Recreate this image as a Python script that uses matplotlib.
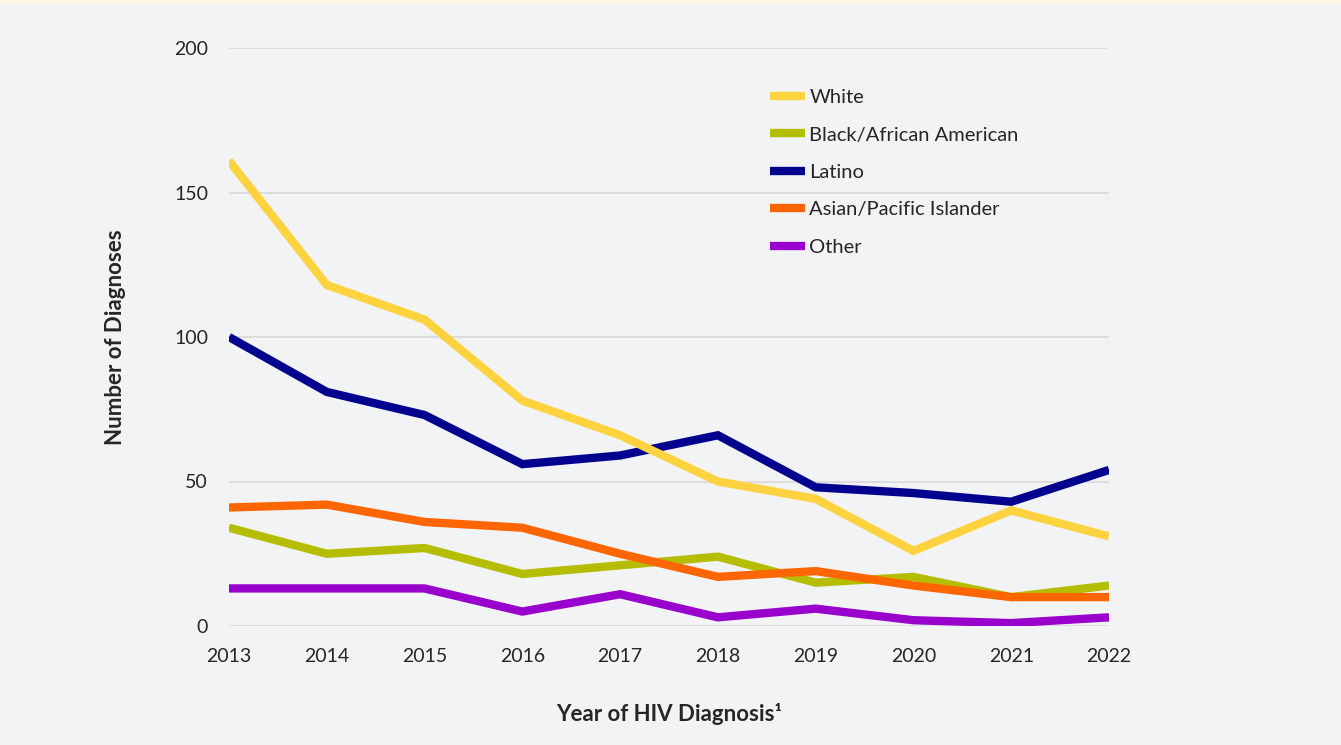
import matplotlib.pyplot as plt
from matplotlib.patches import Rectangle

years = [2013, 2014, 2015, 2016, 2017, 2018, 2019, 2020, 2021, 2022]

white = [161, 118, 106, 78, 66, 50, 44, 26, 40, 31]
black = [34, 25, 27, 18, 21, 24, 15, 17, 10, 14]
latino = [100, 81, 73, 56, 59, 66, 48, 46, 43, 54]
asian = [41, 42, 36, 34, 25, 17, 19, 14, 10, 10]
other = [13, 13, 13, 5, 11, 3, 6, 2, 1, 3]

series_names = ['White', 'Black/African American', 'Latino',
                'Asian/Pacific Islander', 'Other']
series_colors = ['#FFD23F', '#B5BD00', '#02028E', '#FF6600', '#9900CC']
# drawing order: white on top of latino, asian on top of black
series_z = [6, 3, 5, 4, 2]

plt.rcParams['font.family'] = ['Lato', 'DejaVu Sans']

bg = '#F2F3F5'
fig = plt.figure(figsize=(13.41, 7.45), dpi=100, facecolor=bg)
# thin cream strip along the top edge
fig.patches.append(Rectangle((0, 1 - 5 / 745), 1, 5 / 745, transform=fig.transFigure,
                             facecolor='#FDF7EA', edgecolor='none'))

ax = fig.add_axes([229 / 1341, 1 - 626 / 745, 880 / 1341, 578 / 745])
ax.set_facecolor(bg)

all_values = [white, black, latino, asian, other]
for vals, name, col, z in zip(all_values, series_names, series_colors, series_z):
    ax.plot(years, vals, color=col, linewidth=6, label=name, zorder=z,
            solid_joinstyle='miter', solid_capstyle='butt')

ax.set_xlim(2013, 2022)
ax.set_ylim(0, 200)
ax.set_yticks([0, 50, 100, 150, 200])
ax.set_xticks(years)
ax.grid(axis='y', color='#D9D9D9', linewidth=1.2)
ax.set_axisbelow(True)
for s in ax.spines.values():
    s.set_visible(False)
ax.tick_params(length=0, labelsize=14, colors='#262626')
ax.tick_params(axis='y', pad=15)
ax.tick_params(axis='x', pad=16)

ax.set_ylabel('Number of Diagnoses', fontsize=16, fontweight='bold',
              color='#262626', labelpad=35)
ax.set_xlabel('Year of HIV Diagnosis\u00b9', fontsize=16, fontweight='bold',
              color='#262626', labelpad=27)

leg = ax.legend(loc='upper left', bbox_to_anchor=(0.606, 0.943), frameon=False,
                fontsize=14.5, handlelength=1.74, handletextpad=0.2,
                labelspacing=1.01, borderaxespad=0)
for t in leg.get_texts():
    t.set_color('#262626')

fig.savefig('out.png', dpi=100, facecolor=bg)
